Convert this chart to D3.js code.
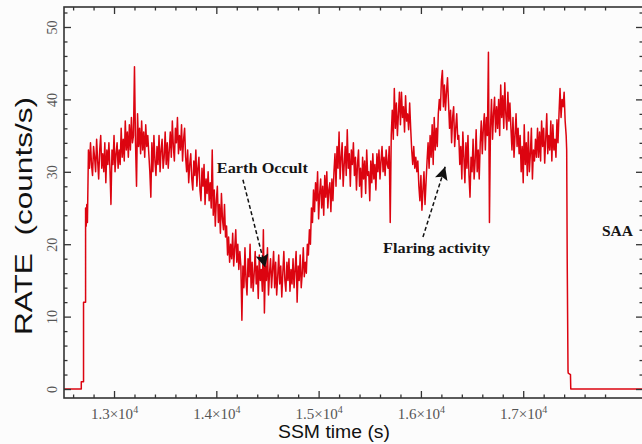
<!DOCTYPE html>
<html>
<head>
<meta charset="utf-8">
<script src="https://cdn.jsdelivr.net/npm/d3@7"></script>
<style>
  body { margin: 0; background: #fcfcfc; }
  svg { display: block; }
</style>
</head>
<body>
<div id="viz"></div>
<script>
const width = 642;
const height = 444;
const margin = {top: 7, right: -1, bottom: 46, left: 64};

// light curve, 10 s bins starting at 12750 s
const binStart = 12750;
const binSize = 10;
const rates = [
  33, 30.5, 34, 31, 29.5, 33.5, 32, 30, 34.5, 31.5, 29, 33, 35, 30.5, 32.5, 30, 34, 28.5, 33, 31,
  34, 30.5, 25.5, 33, 31, 35, 30, 32.5, 34, 30.5, 33, 31, 36, 32, 34.5, 31.5, 37, 33, 35.5, 32,
  36.5, 33, 37.5, 34, 35, 44.5, 34, 28, 38, 33.5, 36, 32.5, 37, 33, 35.5, 32, 36.5, 33.5, 35, 32.5,
  30, 26.5, 34, 30, 35, 31.5, 29.5, 33.5, 31, 35, 30, 33, 34.5, 30.5, 32, 35.5, 31, 34, 30.5, 33,
  35.5, 32, 37, 33.5, 31.5, 36, 34, 37.5, 32.5, 35, 33, 36.5, 31.5, 34.5, 36, 32, 30, 33, 28.5, 31,
  32.5, 29, 27.5, 31.5, 29.5, 33, 28, 30.5, 32, 27.5, 26, 30.5, 28, 31, 25.5, 29, 27, 30, 26, 28.5,
  25, 33, 24, 27.5, 22.5, 26, 28, 23, 25.5, 21.5, 27, 23.5, 22, 25.5, 21, 22.5, 18.5, 21, 17.5, 20,
  18, 21.5, 17, 19.5, 22, 17.5, 20, 16.5, 19, 17, 9.5, 17, 14, 19.5, 15, 13, 18, 15.5, 20, 14,
  17.5, 13.5, 16, 19, 14.5, 17, 12.5, 18.5, 15, 16.5, 13.5, 22, 10.5, 17, 15, 19.5, 13, 16, 18, 14,
  16.5, 19, 14, 17.5, 13, 15.5, 18.5, 14.5, 17, 12.7, 16, 19, 15, 13.5, 17.5, 15, 18, 13.5, 16.5, 14.5,
  18, 14, 16.5, 19, 12, 17, 15, 18.5, 14, 16, 19.5, 15.5, 17.5, 16, 20, 18.5, 22, 20, 25, 23,
  27.5, 24.5, 28.5, 26, 30, 23.5, 27, 29, 25, 28, 24, 29.5, 26.5, 30, 25, 27.5, 28.5, 24.5, 29, 26,
  30, 32.5, 28, 33.5, 30.5, 35.5, 29, 32, 34, 28, 31, 33.5, 29.5, 35.8, 30.5, 32.5, 28, 33, 31, 34,
  29.5, 32, 27.5, 31, 33, 28, 30.5, 26.5, 32, 29, 31.5, 27, 33, 29.5, 30, 26, 31.5, 28.5, 32.5, 29,
  31, 27.5, 32.5, 30, 33, 29, 31.5, 33.5, 30, 32, 29.5, 33, 31, 30.5, 33.5, 23, 35, 38.5, 34.5, 41.5,
  36, 39.5, 35, 38, 41, 36.5, 41, 37.5, 39, 35.5, 40.5, 37, 38, 35.8, 39.5, 36, 33, 31, 33.5, 30.5,
  32, 30, 31.5, 28, 26, 29.5, 24.7, 27.5, 30, 25.5, 28.5, 31.5, 34, 30.5, 35, 32, 36.5, 31, 37.5, 33,
  36, 33.5, 38, 40, 38.5, 42.5, 44, 39, 42, 38.5, 41, 43, 39.5, 36, 38.5, 34, 37.5, 39, 33.5, 36,
  38, 34.5, 35, 31, 33.5, 29, 35.5, 32, 28.5, 34, 30.5, 35, 29.5, 26.5, 32, 30, 34.5, 29, 31.5, 35.8,
  30, 33, 29, 34, 37, 32.5, 36, 38, 33, 37.5, 35, 46.5, 23, 36, 40, 34.5, 38, 40.3, 35.5, 39,
  36, 40, 35, 42, 37.5, 40.5, 36, 42.3, 38, 35.8, 41, 37, 39.5, 36, 33, 37.5, 32, 35, 38, 33.5,
  36, 32.5, 35, 30, 33.5, 28.5, 36.5, 31, 34, 29.5, 35.5, 30, 32.5, 36, 29, 33, 31.5, 34.5, 32, 36,
  32, 35.5, 31.5, 37, 33.5, 36, 31.2, 34.5, 38, 32.5, 35, 33, 37, 31.5, 36.5, 33, 34.5, 32, 37.2, 34,
  38, 41.5, 37.5, 40, 39, 41, 37, 35
];

// before the source rises and after it sets
const riseTimes = [12511, 12680, 12680, 12702, 12702, 12722, 12722, 12728, 12734, 12740];
const riseRates = [0, 0, 1, 1, 12, 12, 25, 22.5, 25.5, 23];
const fallTimes = [17425, 17430, 17438, 17440, 17462, 17465, 18200];
const fallRates = [33, 18, 2.5, 2.2, 2, 0, 0];

const xMajor = [13000, 14000, 15000, 16000, 17000];
const xMajorLabels = ["1.3", "1.4", "1.5", "1.6", "1.7"];
const yMajor = [0, 10, 20, 30, 40, 50];

const notes = [
  {text: "Earth Occult", t: 14005, r: 29.8, len: 91},
  {text: "Flaring activity", t: 15630, r: 18.8, len: 107},
  {text: "SAA", t: 17770, r: 21.1, len: 31}
];
const arrows = [
  {t1: 14260, r1: 28.9, t2: 14478, r2: 16.8},
  {t1: 16020, r1: 21.0, t2: 16237, r2: 30.7}
];

const svg = d3.select("#viz").append("svg")
  .attr("width", width)
  .attr("height", height);

const x = d3.scaleLinear()
  .domain([12511, 18171])
  .range([margin.left, width - margin.right]);

const y = d3.scaleLinear()
  .domain([-1.24, 52.76])
  .range([height - margin.bottom, margin.top]);

const x0 = margin.left, x1 = width - margin.right;
const y0 = margin.top, y1 = height - margin.bottom;

// curve
const pts = [];
riseTimes.forEach((t, i) => pts.push([t, riseRates[i]]));
rates.forEach((r, i) => pts.push([binStart + i * binSize, r]));
fallTimes.forEach((t, i) => pts.push([t, fallRates[i]]));

const line = d3.line()
  .x(d => x(d[0]))
  .y(d => y(d[1]));

svg.append("path")
  .datum(pts)
  .attr("fill", "none")
  .attr("stroke", "#dc0410")
  .attr("stroke-width", 1.5)
  .attr("stroke-linejoin", "round")
  .attr("d", line);

// ticks on all four sides, pointing inward
const xMinor = d3.range(12600, 18200, 200).filter(v => v % 1000 !== 0);
const yMinor = d3.range(0, 53, 2).filter(v => v % 10 !== 0);
const tickColor = "#333";

function styleAxis(g) {
  g.select(".domain").remove();
  g.selectAll(".tick line").attr("stroke", tickColor).attr("stroke-width", 1.3);
}

svg.append("g")
  .attr("transform", `translate(0,${y1})`)
  .call(d3.axisBottom(x).tickValues(xMinor).tickSize(-3.5).tickFormat(""))
  .call(styleAxis);
svg.append("g")
  .attr("transform", `translate(0,${y0})`)
  .call(d3.axisTop(x).tickValues(xMinor).tickSize(-3.5).tickFormat(""))
  .call(styleAxis);
svg.append("g")
  .attr("transform", `translate(0,${y0})`)
  .call(d3.axisTop(x).tickValues(xMajor).tickSize(-7).tickFormat(""))
  .call(styleAxis);

const xAxis = svg.append("g")
  .attr("transform", `translate(0,${y1})`)
  .call(d3.axisBottom(x).tickValues(xMajor).tickSize(-7).tickPadding(10).tickFormat(""))
  .call(styleAxis);

xAxis.selectAll(".tick text")
  .attr("fill", "#555")
  .attr("font-family", "'Liberation Serif', 'Times New Roman', serif")
  .attr("font-size", 15)
  .each(function(d, i) {
    const t = d3.select(this);
    t.append("tspan").text(xMajorLabels[i] + "\u00d710");
    t.append("tspan").attr("dy", -6).attr("font-size", 10).text("4");
  });

svg.append("g")
  .attr("transform", `translate(${x0},0)`)
  .call(d3.axisLeft(y).tickValues(yMinor).tickSize(-3.5).tickFormat(""))
  .call(styleAxis);
svg.append("g")
  .attr("transform", `translate(${x1},0)`)
  .call(d3.axisRight(y).tickValues(yMinor).tickSize(-3.5).tickFormat(""))
  .call(styleAxis);
svg.append("g")
  .attr("transform", `translate(${x1},0)`)
  .call(d3.axisRight(y).tickValues(yMajor).tickSize(-7).tickFormat(""))
  .call(styleAxis);

const yAxis = svg.append("g")
  .attr("transform", `translate(${x0},0)`)
  .call(d3.axisLeft(y).tickValues(yMajor).tickSize(-7).tickFormat(d3.format("d")))
  .call(styleAxis);

yAxis.selectAll(".tick text")
  .attr("fill", "#555")
  .attr("font-family", "'Liberation Serif', 'Times New Roman', serif")
  .attr("font-size", 14)
  .attr("text-anchor", "middle")
  .attr("dy", null)
  .attr("x", 0)
  .attr("y", -7)
  .attr("transform", "rotate(-90)");

// frame
svg.append("rect")
  .attr("x", x0).attr("y", y0)
  .attr("width", x1 - x0).attr("height", y1 - y0)
  .attr("fill", "none")
  .attr("stroke", tickColor)
  .attr("stroke-width", 1.6);

// axis titles
svg.append("text")
  .attr("x", 334)
  .attr("y", 438)
  .attr("text-anchor", "middle")
  .attr("font-family", "'Liberation Sans', Arial, sans-serif")
  .attr("font-size", 18)
  .attr("textLength", 112)
  .attr("lengthAdjust", "spacingAndGlyphs")
  .attr("fill", "#111")
  .text("SSM time (s)");

svg.append("text")
  .attr("transform", "translate(32,216) rotate(-90)")
  .attr("text-anchor", "middle")
  .attr("font-family", "'Liberation Sans', Arial, sans-serif")
  .attr("font-size", 24)
  .attr("textLength", 238)
  .attr("lengthAdjust", "spacingAndGlyphs")
  .attr("fill", "#111")
  .style("white-space", "pre")
  .text("RATE  (counts/s)");

// annotations
svg.append("defs").append("marker")
  .attr("id", "head")
  .attr("viewBox", "0 0 10 10")
  .attr("refX", 10).attr("refY", 5)
  .attr("markerWidth", 18).attr("markerHeight", 13)
  .attr("markerUnits", "userSpaceOnUse")
  .attr("orient", "auto")
  .append("path")
  .attr("d", "M0,0 L10,5 L0,10 L2,5 Z")
  .attr("fill", "#111");

svg.selectAll(".note")
  .data(notes)
  .join("text")
  .attr("class", "note")
  .attr("x", d => x(d.t))
  .attr("y", d => y(d.r))
  .attr("font-family", "'Liberation Serif', 'Times New Roman', serif")
  .attr("font-weight", "bold")
  .attr("font-size", 15)
  .attr("textLength", d => d.len)
  .attr("lengthAdjust", "spacingAndGlyphs")
  .attr("fill", "#151515")
  .text(d => d.text);

svg.selectAll(".arrow")
  .data(arrows)
  .join("line")
  .attr("class", "arrow")
  .attr("x1", d => x(d.t1)).attr("y1", d => y(d.r1))
  .attr("x2", d => x(d.t2)).attr("y2", d => y(d.r2))
  .attr("stroke", "#111")
  .attr("stroke-width", 1.5)
  .attr("stroke-dasharray", "4,2.5")
  .attr("marker-end", "url(#head)");
</script>
</body>
</html>
